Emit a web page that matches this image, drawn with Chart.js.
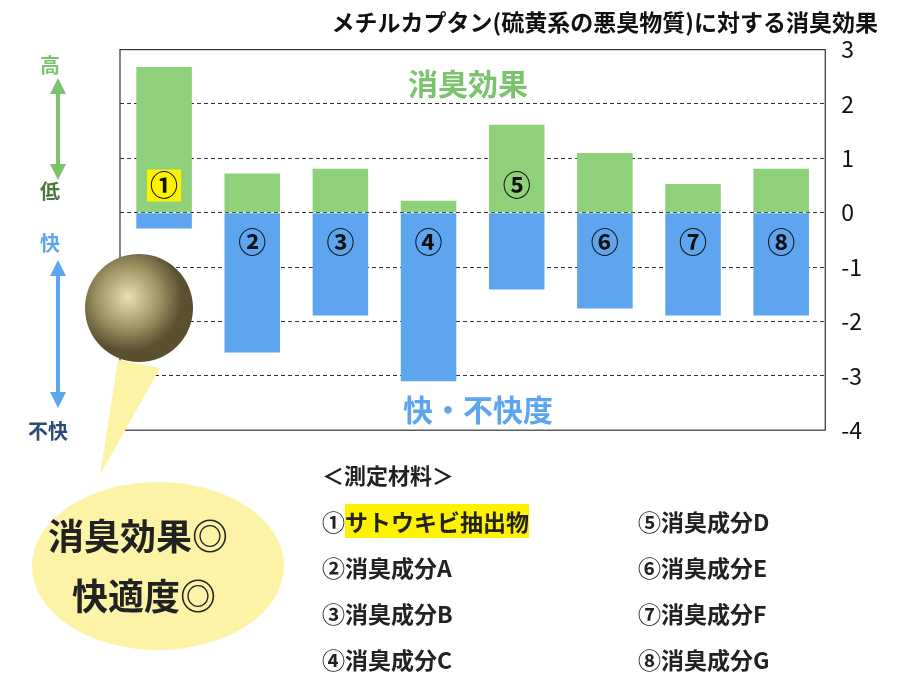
<!DOCTYPE html>
<html><head><meta charset="utf-8">
<script src="https://cdn.jsdelivr.net/npm/chart.js@4"></script>
<style>
body{margin:0;background:#fff;font-family:"Noto Sans CJK JP",sans-serif;}
#wrap{position:relative;width:900px;height:700px;}
#c{position:absolute;left:0;top:0;}
.t{position:absolute;font-weight:bold;white-space:nowrap;color:#222;}
</style></head><body>
<div id="wrap">
<canvas id="c" width="900" height="460"></canvas>
<svg width="900" height="700" style="position:absolute;left:0;top:0;pointer-events:none">
<defs><radialGradient id="g" cx="40%" cy="40%"><stop offset="0" stop-color="#e8e0b0"/><stop offset="0.6" stop-color="#9a9060"/><stop offset="1" stop-color="#5a5030"/></radialGradient></defs>
<circle cx="139" cy="308" r="54" fill="url(#g)"/>
<path d="M118 360 L100 475 L160 368 Z" fill="#fdf3a6"/>
<ellipse cx="158" cy="566" rx="126" ry="84" fill="#fdf3a6"/>
<line x1="58" y1="88" x2="58" y2="172" stroke="#7cc36e" stroke-width="4"/>
<polygon points="58,78 50,94 66,94" fill="#7cc36e"/><polygon points="58,180 50,164 66,164" fill="#7cc36e"/>
<line x1="58" y1="270" x2="58" y2="398" stroke="#5ea5f0" stroke-width="4"/>
<polygon points="58,260 50,276 66,276" fill="#5ea5f0"/><polygon points="58,408 50,392 66,392" fill="#5ea5f0"/>
</svg>
<div class="t" style="left:40px;top:50px;font-size:20px;color:#7cc36e">高</div>
<div class="t" style="left:40px;top:176px;font-size:20px;color:#4a7a3a">低</div>
<div class="t" style="left:40px;top:228px;font-size:20px;color:#5ea5f0">快</div>
<div class="t" style="left:28px;top:416px;font-size:20px;color:#2c4a7a">不快</div>
<div class="t" style="left:48px;top:508px;font-size:36px">消臭効果◎</div>
<div class="t" style="left:72px;top:568px;font-size:36px">快適度◎</div>
<div class="t" style="left:322px;top:458px;font-size:22px">＜測定材料＞</div>
<div class="t" style="left:322px;top:504px;font-size:23px">①<span style="background:#fff200">サトウキビ抽出物</span></div>
<div class="t" style="left:322px;top:550px;font-size:23px">②消臭成分A</div>
<div class="t" style="left:322px;top:596px;font-size:23px">③消臭成分B</div>
<div class="t" style="left:322px;top:642px;font-size:23px">④消臭成分C</div>
<div class="t" style="left:638px;top:504px;font-size:23px">⑤消臭成分D</div>
<div class="t" style="left:638px;top:550px;font-size:23px">⑥消臭成分E</div>
<div class="t" style="left:638px;top:596px;font-size:23px">⑦消臭成分F</div>
<div class="t" style="left:638px;top:642px;font-size:23px">⑧消臭成分G</div>
</div>
<script>
const categories=["①","②","③","④","⑤","⑥","⑦","⑧"];
const deodorValues=[2.68,0.72,0.81,0.22,1.62,1.1,0.53,0.81];
const comfortValues=[-0.29,-2.57,-1.89,-3.1,-1.41,-1.76,-1.89,-1.89];
const tickValues=[3,2,1,0,-1,-2,-3,-4];
const labelPlugin={id:'lbl',afterDatasetsDraw(ch){
 const c=ch.ctx,x=ch.scales.x,y=ch.scales.y,a=ch.chartArea;
 c.save();c.font='bold 28px "Noto Sans CJK JP"';c.textAlign='center';c.textBaseline='middle';
 categories.forEach((l,i)=>{
  const px=x.getPixelForValue(i);
  const py=(i===0||i===4)?y.getPixelForValue(0.5):y.getPixelForValue(-0.55);
  if(i===0){c.fillStyle='#fff200';c.fillRect(px-17,py-16,34,32);}
  c.fillStyle='#111';c.fillText(l,px,py);});
 c.strokeStyle='#333';c.lineWidth=1.2;c.strokeRect(a.left,a.top,a.right-a.left,a.bottom-a.top);
 c.font='bold 30px "Noto Sans CJK JP"';c.fillStyle='#7cc36e';c.fillText('消臭効果',468,84);
 c.fillStyle='#5ea5f0';c.fillText('快・不快度',478,410);
 c.restore();}};
new Chart(document.getElementById('c'),{type:'bar',
 data:{labels:categories,datasets:[
  {data:deodorValues,backgroundColor:'#8fd07b',barPercentage:0.63,categoryPercentage:1},
  {data:comfortValues,backgroundColor:'#5ea5f0',barPercentage:0.63,categoryPercentage:1}]},
 options:{responsive:false,animation:false,
  layout:{padding:{left:120,right:22,top:8,bottom:22}},
  plugins:{legend:{display:false},tooltip:{enabled:false},
   title:{display:true,text:'メチルカプタン(硫黄系の悪臭物質)に対する消臭効果',color:'#111',font:{size:23,weight:'bold',family:'"Noto Sans CJK JP"'},padding:{top:0,bottom:14},align:'end'}},
  scales:{x:{stacked:true,display:false},
   y:{stacked:true,position:'right',min:-4,max:3,
    afterBuildTicks(s){s.ticks=tickValues.map(v=>({value:v}));},
    ticks:{color:'#111',font:{size:23,family:'"Noto Sans CJK JP"'},padding:16,callback:v=>String(v)},
    border:{display:false,dash:[4,3]},
    grid:{drawTicks:false,color:'#333',lineWidth:c=>(c.tick.value===3||c.tick.value===-4)?0:1}}}},
 plugins:[labelPlugin]});
</script></body></html>
